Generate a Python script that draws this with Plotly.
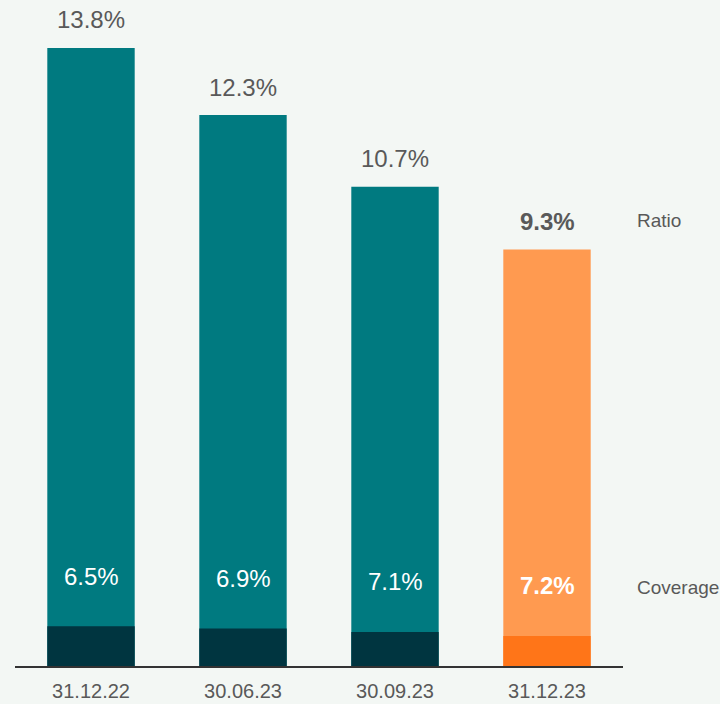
import plotly.graph_objects as go

categories = ["31.12.22", "30.06.23", "30.09.23", "31.12.23"]
ratio = [13.8, 12.3, 10.7, 9.3]
coverage = [6.5, 6.9, 7.1, 7.2]
base_segment = [0.89, 0.84, 0.76, 0.67]

TEAL = "#007A80"
DARK = "#003540"
ORANGE = "#FF9A50"
ORANGE_DARK = "#FF7518"
BG = "#F3F7F4"
GREY = "#595959"
FONT = "Liberation Sans, Arial, sans-serif"

main_colors = [TEAL, TEAL, TEAL, ORANGE]
base_colors = [DARK, DARK, DARK, ORANGE_DARK]

fig = go.Figure()
fig.add_trace(go.Bar(x=categories, y=ratio, marker=dict(color=main_colors, line=dict(width=0)),
                     width=0.575, hoverinfo="skip", showlegend=False))
fig.add_trace(go.Bar(x=categories, y=base_segment, marker=dict(color=base_colors, line=dict(width=0)),
                     width=0.575, hoverinfo="skip", showlegend=False))

annotations = []
last = len(categories) - 1
for i, (c, r, cv, b) in enumerate(zip(categories, ratio, coverage, base_segment)):
    bold = i == last
    rt = f"{r:.1f}%"
    ct = f"{cv:.1f}%"
    if bold:
        rt = f"<b>{rt}</b>"
        ct = f"<b>{ct}</b>"
    annotations.append(dict(x=c, y=r, text=rt, showarrow=False, xref="x", yref="y",
                            yanchor="middle", yshift=28,
                            font=dict(family=FONT, size=24, color=GREY)))
    annotations.append(dict(x=c, y=b, text=ct, showarrow=False, xref="x", yref="y",
                            yanchor="middle", yshift=50,
                            font=dict(family=FONT, size=24, color="white")))

annotations.append(dict(x=1.02, xref="paper", y=(666 - 220) / 666, yref="paper", text="Ratio",
                        showarrow=False, xanchor="left", yanchor="middle",
                        font=dict(family=FONT, size=19, color=GREY)))
annotations.append(dict(x=1.02, xref="paper", y=(666 - 587) / 666, yref="paper", text="Coverage",
                        showarrow=False, xanchor="left", yanchor="middle",
                        font=dict(family=FONT, size=19, color=GREY)))

fig.update_layout(
    width=720, height=704,
    margin=dict(l=15, r=97, t=0, b=38),
    paper_bgcolor=BG, plot_bgcolor=BG,
    barmode="overlay",
    annotations=annotations,
    xaxis=dict(showline=True, linecolor="#333333", linewidth=1.5, showgrid=False, zeroline=False,
               ticks="outside", ticklen=6, tickcolor="rgba(0,0,0,0)",
               tickfont=dict(family=FONT, size=20, color=GREY), range=[-0.5, 3.5]),
    yaxis=dict(visible=False, range=[0, 14.87], showgrid=False, zeroline=False),
)

fig.write_html("out.html", config={"displayModeBar": False},
               post_script="document.body.style.margin='0';document.body.style.background='%s';" % BG)
